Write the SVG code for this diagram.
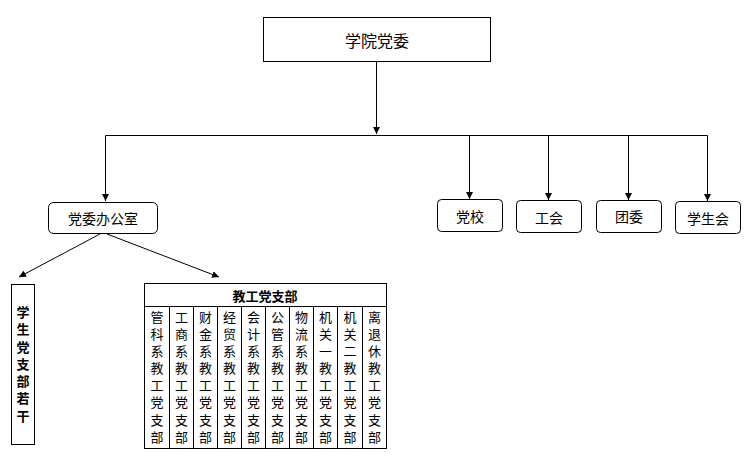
<svg xmlns="http://www.w3.org/2000/svg" width="747" height="463" viewBox="0 0 747 463">
<defs>
<marker id="ah" viewBox="0 0 10 10" refX="10" refY="5" markerWidth="7" markerHeight="7" markerUnits="userSpaceOnUse" orient="auto">
<path d="M0,0 L10,5 L0,10 z" fill="#000"/>
</marker>
</defs>
<style>
.box{fill:#fff;stroke:#000;stroke-width:1}
.t{font-family:"Noto Sans CJK SC","Noto Sans CJK JP",sans-serif;fill:#000;text-anchor:middle;dominant-baseline:central}
.v{font-family:"Noto Sans CJK SC","Noto Sans CJK JP",sans-serif;fill:#000;writing-mode:vertical-rl;text-anchor:start;font-size:13px;letter-spacing:4.1px}
.ln{fill:none;stroke:#000;stroke-width:1}
</style>
<rect width="747" height="463" fill="#fff"/>
<g id="connectors">
<path class="ln" d="M376.5,61 V134" marker-end="url(#ah)"/>
<path class="ln" d="M105.5,135.5 H707.5"/>
<path class="ln" d="M105.5,135.5 V201" marker-end="url(#ah)"/>
<path class="ln" d="M469.5,135.5 V199" marker-end="url(#ah)"/>
<path class="ln" d="M548.5,135.5 V200" marker-end="url(#ah)"/>
<path class="ln" d="M628.5,135.5 V200" marker-end="url(#ah)"/>
<path class="ln" d="M707.5,135.5 V201" marker-end="url(#ah)"/>
<path class="ln" d="M100,234 L19,277" marker-end="url(#ah)"/>
<path class="ln" d="M107,234 L219,277" marker-end="url(#ah)"/>
</g>
<g id="n-top">
<rect class="box" x="263.5" y="17.5" width="227" height="44"/>
<text class="t" x="377" y="40" font-size="16">学院党委</text>
</g>
<g id="n-office">
<rect class="box" x="48.5" y="202.5" width="109" height="31" rx="5"/>
<text class="t" x="103" y="218" font-size="14">党委办公室</text>
</g>
<g id="n-dangxiao">
<rect class="box" x="437.5" y="199.5" width="65" height="32" rx="4"/>
<text class="t" x="470" y="215.5" font-size="14">党校</text>
</g>
<g id="n-gonghui">
<rect class="box" x="516.5" y="200.5" width="65" height="32" rx="4"/>
<text class="t" x="549" y="216.5" font-size="14">工会</text>
</g>
<g id="n-tuanwei">
<rect class="box" x="596.5" y="200.5" width="65" height="32" rx="4"/>
<text class="t" x="629" y="216" font-size="14">团委</text>
</g>
<g id="n-xueshenghui">
<rect class="box" x="675.5" y="201.5" width="65" height="32" rx="4"/>
<text class="t" x="708" y="217.5" font-size="14">学生会</text>
</g>
<g id="n-student">
<rect class="box" x="11.5" y="284.5" width="23" height="160"/>
<text class="v" x="23" y="305.5" font-weight="bold" style="letter-spacing:4.3px">学生党支部若干</text>
</g>
<g id="n-staff">
<rect class="box" x="144.5" y="283.5" width="242" height="165"/>
<path class="ln" d="M144.5,306.5 H386.5 M169.5,306.5 V448.5 M193.5,306.5 V448.5 M217.5,306.5 V448.5 M241.5,306.5 V448.5 M265.5,306.5 V448.5 M289.5,306.5 V448.5 M313.5,306.5 V448.5 M337.5,306.5 V448.5 M362.5,306.5 V448.5"/>
<text class="t" x="265" y="295" font-size="13" font-weight="bold">教工党支部</text>
<text class="v" x="157" y="310.5">管科系教工党支部</text>
<text class="v" x="181.5" y="310.5">工商系教工党支部</text>
<text class="v" x="205.5" y="310.5">财金系教工党支部</text>
<text class="v" x="229.5" y="310.5">经贸系教工党支部</text>
<text class="v" x="253.5" y="310.5">会计系教工党支部</text>
<text class="v" x="277.5" y="310.5">公管系教工党支部</text>
<text class="v" x="301.5" y="310.5">物流系教工党支部</text>
<text class="v" x="325.5" y="310.5">机关一教工党支部</text>
<text class="v" x="350" y="310.5">机关二教工党支部</text>
<text class="v" x="374.5" y="310.5">离退休教工党支部</text>
</g>
</svg>
